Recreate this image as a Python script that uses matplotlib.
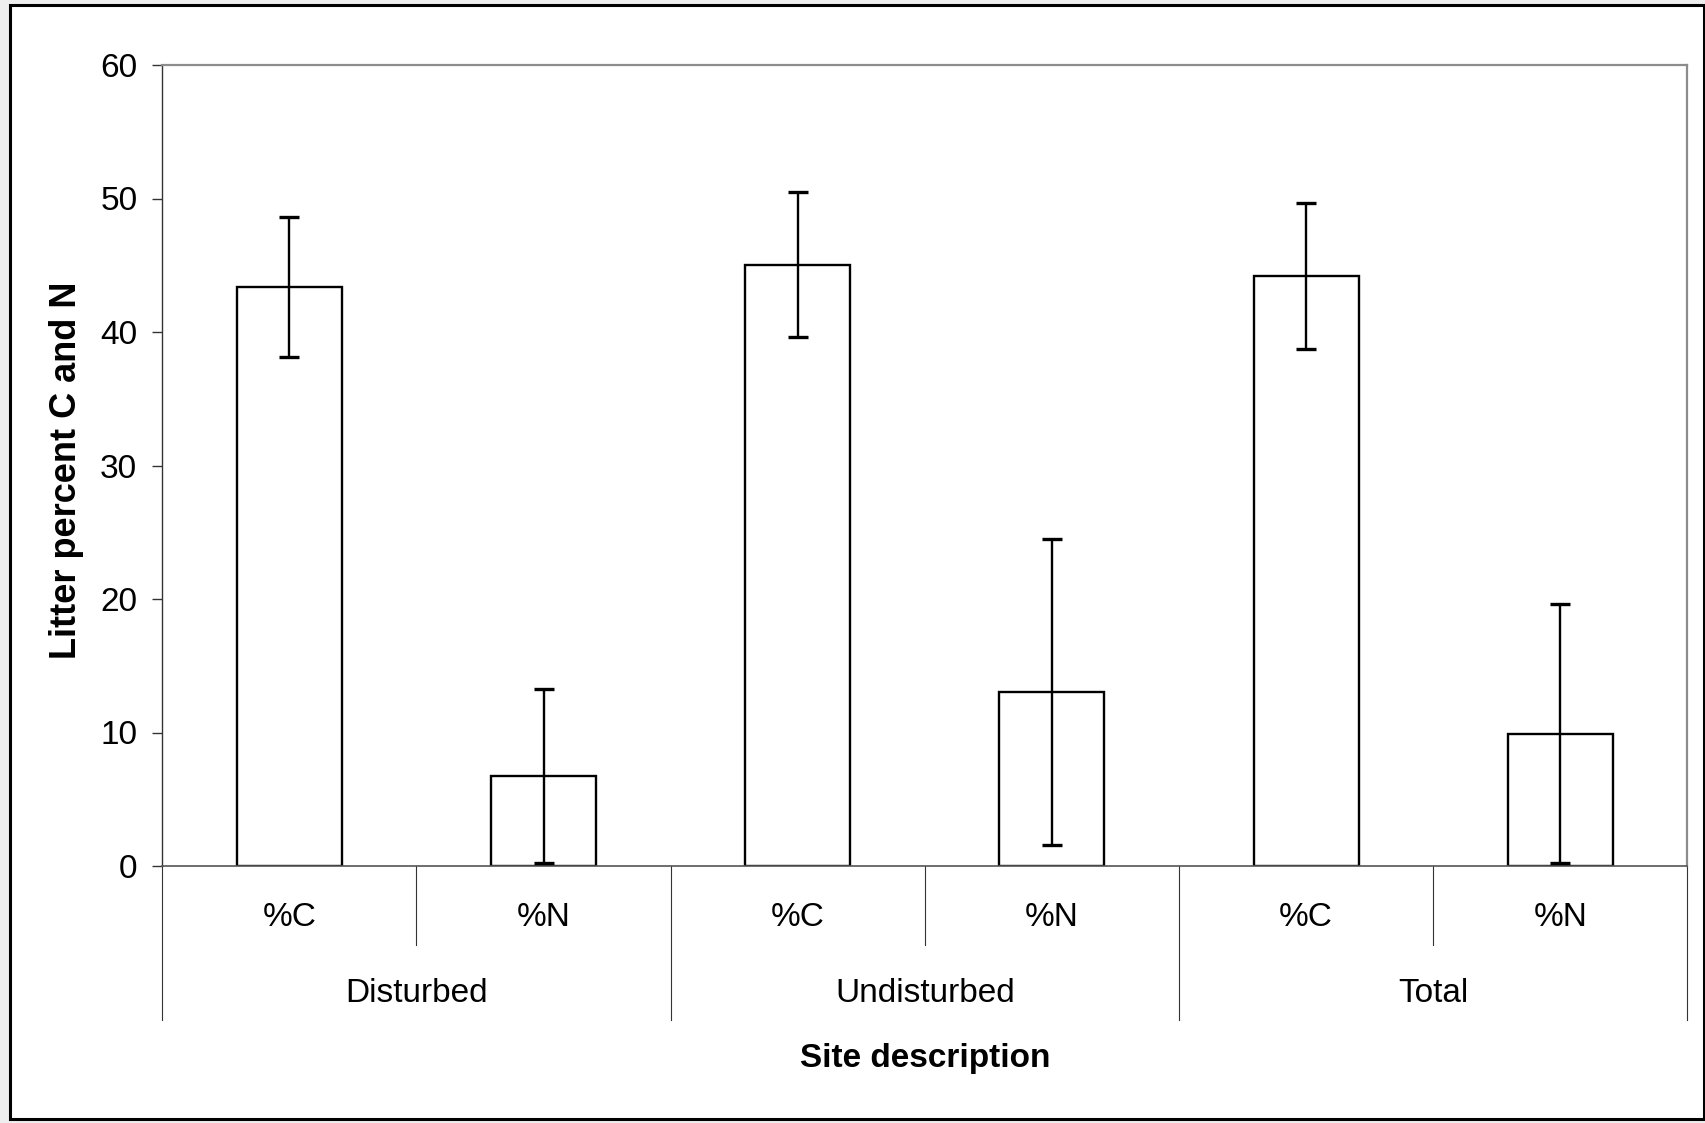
import numpy as np
import matplotlib
matplotlib.use("Agg")
import matplotlib.pyplot as plt
from matplotlib.patches import Rectangle

plt.rcParams['font.family'] = ['Liberation Sans', 'DejaVu Sans']

# data
groups = ["Disturbed", "Undisturbed", "Total"]
measures = ["%C", "%N"]
means = [43.4, 6.75, 45.05, 13.05, 44.2, 9.9]
errors = [5.25, 6.5, 5.45, 11.45, 5.5, 9.7]
yticks = [0, 10, 20, 30, 40, 50, 60]

W, H = 1706, 1123
fig = plt.figure(figsize=(W / 100, H / 100), dpi=100)
fig.patch.set_facecolor('#eeeeee')

# outer black frame
fig.patches.append(Rectangle((10 / W, 1 - 1119 / H), (1704 - 10) / W, (1119 - 5) / H,
                             transform=fig.transFigure, facecolor='white',
                             edgecolor='black', lw=2.2, zorder=-1))

ax = fig.add_axes([162.3 / W, 1 - 866 / H, 1525 / W, 801 / H])

x = np.arange(len(means)) + 0.5
ax.bar(x, means, width=0.413, color='white', edgecolor='black', linewidth=1.7, zorder=2)
ax.errorbar(x, means, yerr=errors, fmt='none', ecolor='black', elinewidth=1.7,
            capsize=7, capthick=2.4, zorder=3)

ax.set_xlim(0, 6)
ax.set_ylim(0, 60)
ax.set_yticks(yticks)
ax.set_xticks([])
ax.tick_params(axis='y', direction='out', length=7, width=1, pad=11,
               labelsize=24, color='#333333')

ax.spines['left'].set_color('#333333')
ax.spines['left'].set_linewidth(1)
ax.spines['bottom'].set_color('#555555')
ax.spines['bottom'].set_linewidth(1.2)
for s in ['top', 'right']:
    ax.spines[s].set_color('#8c8c8c')
    ax.spines[s].set_linewidth(1.6)


def yfrac(py):
    # pixel row -> axes fraction
    return (866 - py) / 801


tr = ax.get_xaxis_transform()

# category labels
for i, xi in enumerate(x):
    ax.text(xi, yfrac(918), measures[i % 2], transform=tr, ha='center', va='center', fontsize=24)

# group labels
for g, name in enumerate(groups):
    ax.text(2 * g + 1, yfrac(994), name, transform=tr, ha='center', va='center', fontsize=24)

# separators below the axis
for xs in [1, 3, 5]:
    ax.plot([xs, xs], [0, yfrac(945)], transform=tr, clip_on=False, color='#333333', lw=0.8)
for xs in [0, 2, 4, 6]:
    ax.plot([xs, xs], [0, yfrac(1020)], transform=tr, clip_on=False, color='#333333', lw=0.8)

ax.text(3, yfrac(1059), "Site description", transform=tr, ha='center', va='center',
        fontsize=24, fontweight='bold')
fig.text(67 / W, 1 - 470 / H, "Litter percent C and N", rotation=90, ha='center',
         va='center', fontsize=26, fontweight='bold')

fig.savefig("out.png", dpi=100, facecolor=fig.get_facecolor())
